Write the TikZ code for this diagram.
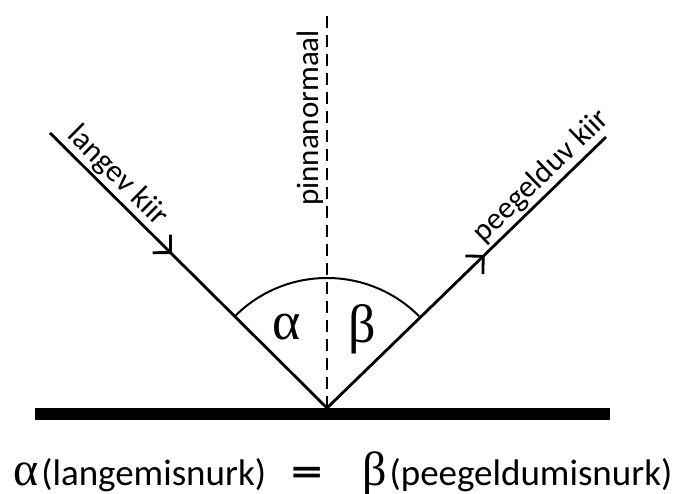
\documentclass[tikz,border=0pt]{standalone}
\usepackage{fontspec}
\setmainfont{Carlito}
\newfontfamily\greekfont{Liberation Serif}
\usepackage{graphicx}
\usetikzlibrary{arrows.meta,decorations.markings}

\begin{document}
\begin{tikzpicture}[x=1pt, y=1pt, line width=2.8pt]
\tikzset{
  mirrorline/.style={line width=12pt},
  rayline/.style={line width=2.8pt},
  normline/.style={line width=2.6pt, dash pattern=on 12pt off 7pt},
  anglearc/.style={line width=2pt},
  raylab/.style={font=\fontsize{31}{36}\selectfont, inner sep=2pt},
  anglab/.style={font=\fontsize{54}{60}\selectfont\greekfont},
  eqtext/.style={font=\fontsize{37}{44}\selectfont, inner sep=0pt},
  eqgreek/.style={font=\fontsize{48}{54}\selectfont\greekfont, inner sep=0pt},
  midarrow/.style={postaction={decorate}, decoration={markings,
    mark=at position #1 with {\arrow{Straight Barb[angle'=90, length=12.7pt]}}}}
}
\useasboundingbox (0,0) rectangle (674,494);

\coordinate (O) at (327,86);
\coordinate (A) at (50,361);
\coordinate (B) at (606,357);
\coordinate (N) at (327,478);
\coordinate (ML) at (35,80);
\coordinate (MR) at (610,80);

% mirror and normal
\draw[mirrorline] (ML) -- (MR);
\draw[normline] (O) -- node[pos=0.74, sloped, above, raylab] {pinnanormaal} (N);

% rays
\draw[rayline, midarrow=0.44] (A) -- node[pos=0.2, sloped, above, raylab] {langev kiir} (O);
\draw[rayline, midarrow=0.565] (O) -- node[pos=0.81, sloped, above, raylab] {peegelduv kiir} (B);

% angle
\draw[anglearc] ([shift=(135:130)]O) arc[start angle=135, end angle=45, radius=130];
\node[anglab] (alpha) at (287,167) {α};
\node[anglab] (beta) at (362,165) {β};

% equation
\node[eqgreek, anchor=base west] (eqA) at (12,8) {α};
\node[eqtext, anchor=base west] (eqL) at (eqA.base east) {(langemisnurk)};
\node[eqtext] (eqS) at (307,18) {\scalebox{1.7}[1.1]{\textbf{=}}};
\node[eqgreek, anchor=base west] (eqB) at (361,8) {β};
\node[eqtext, anchor=base west] (eqR) at (eqB.base east) {(peegeldumisnurk)};
\end{tikzpicture}
\end{document}
